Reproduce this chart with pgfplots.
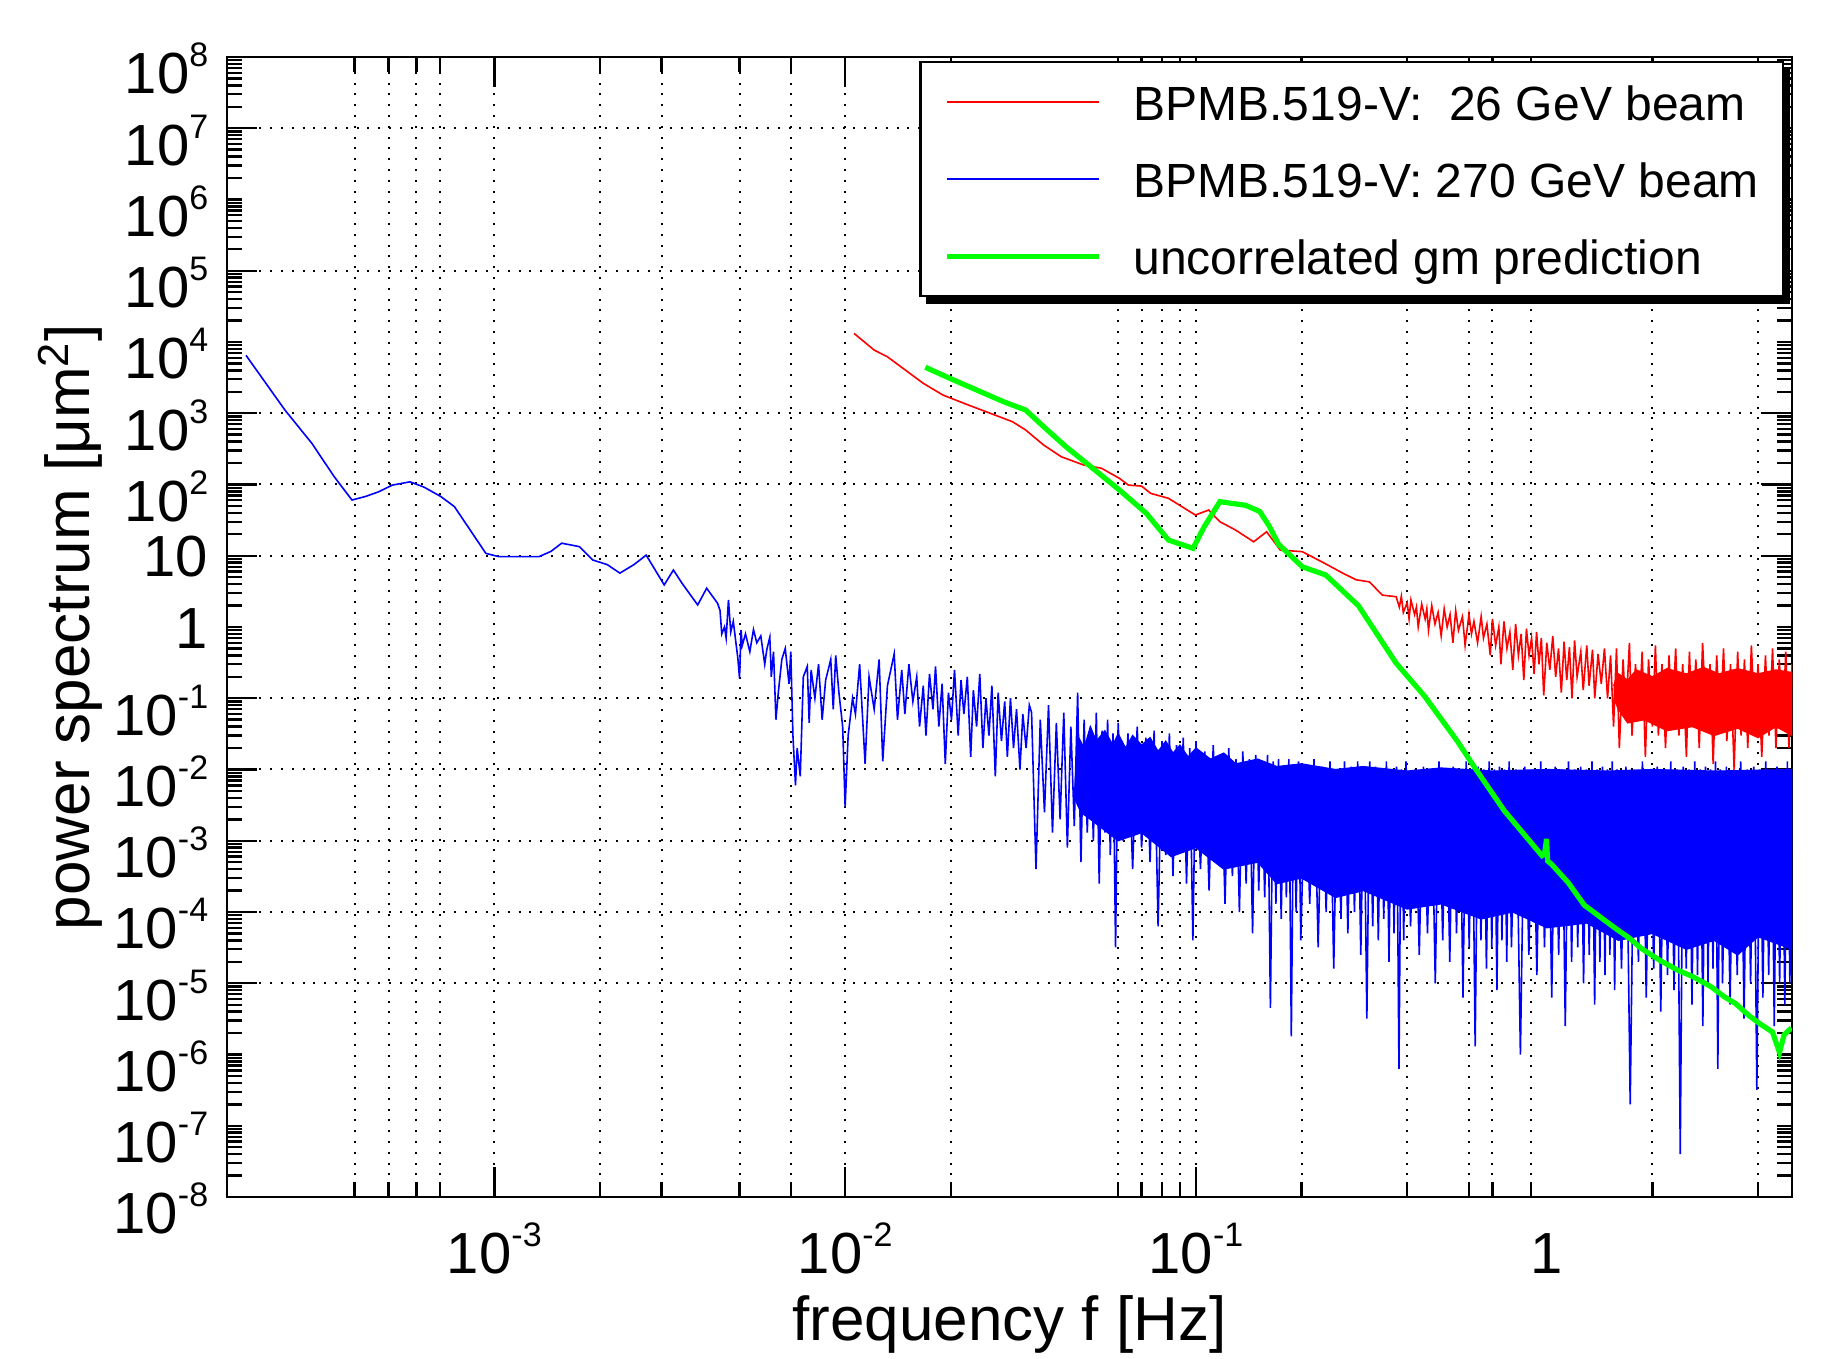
\documentclass[border=0pt]{standalone}
\usepackage{fontspec}
\setmainfont{Liberation Sans}
\usepackage{pgfplots}
\pgfplotsset{compat=1.18}
\definecolor{mred}{RGB}{255,0,0}
\definecolor{mblue}{RGB}{0,0,255}
\definecolor{mgreen}{RGB}{0,255,0}
\newcommand{\xp}[1]{10\raisebox{6.75pt}{\fontsize{8.5}{9}\selectfont #1}}
\newcommand{\yp}[1]{\lower3.9pt\hbox{\xp{#1}}}
\begin{document}
\begin{tikzpicture}
\useasboundingbox (-56.75pt,-40.25pt) rectangle (402.75pt,299.25pt);
\begin{axis}[
  at={(0pt,0pt)}, anchor=south west,
  width=391.25pt, height=285pt, scale only axis,
  xmode=log, ymode=log,
  xmin=1.73e-4, xmax=5, ymin=1e-8, ymax=1e8,
  axis line style={line width=0.6pt},
  tick style={black, line width=0.6pt},
  major tick length=7.5pt, minor tick length=3.8pt,
  xtick pos=both, ytick pos=both,
  xtick={1e-3,1e-2,1e-1},
  xticklabels={\xp{-3},\xp{-2},\xp{-1}},
  extra x ticks={1}, extra x tick labels={1},
  extra x tick style={grid=none, major tick length=0pt},
  minor xtick={4e-4,5e-4,6e-4,7e-4,2e-3,3e-3,5e-3,7e-3,2e-2,6e-2,7e-2,8e-2,9e-2,0.2,0.4,0.6,0.7,0.9,2,4},
  ytick={1e-5,1e-4,1e-3,1e-2,1e-1,1e1,1e2,1e3,1e5,1e7},
  yticklabels={\yp{-5},\yp{-4},\yp{-3},\yp{-2},\yp{-1},10,\yp{2},\yp{3},\yp{5},\yp{7}},
  extra y ticks={1e-8,1e-7,1e-6,1,1e4,1e6,1e8},
  extra y tick labels={\yp{-8},\yp{-7},\yp{-6},1,\yp{4},\yp{6},\yp{8}},
  extra y tick style={grid=none, major tick length=3.8pt},
  minor ytick={2e-8,3e-8,4e-8,5e-8,6e-8,7e-8,8e-8,9e-8,
    2e-7,3e-7,4e-7,5e-7,6e-7,7e-7,8e-7,9e-7,
    2e-6,3e-6,4e-6,5e-6,6e-6,7e-6,8e-6,9e-6,
    2e-5,3e-5,4e-5,5e-5,6e-5,7e-5,8e-5,9e-5,
    2e-4,3e-4,4e-4,5e-4,6e-4,7e-4,8e-4,9e-4,
    2e-3,3e-3,4e-3,5e-3,6e-3,7e-3,8e-3,9e-3,
    0.02,0.03,0.04,0.05,0.06,0.07,0.08,0.09,
    0.2,0.3,0.4,0.5,0.6,0.7,0.8,0.9,
    2,3,4,5,6,7,8,9,
    20,30,40,50,60,70,80,90,
    200,300,400,500,600,700,800,900,
    2000,3000,4000,5000,6000,7000,8000,9000,
    2e4,3e4,4e4,5e4,6e4,7e4,8e4,9e4,
    2e5,3e5,4e5,5e5,6e5,7e5,8e5,9e5,
    2e6,3e6,4e6,5e6,6e6,7e6,8e6,9e6,
    2e7,3e7,4e7,5e7,6e7,7e7,8e7,9e7},
  xmajorgrids, xminorgrids, ymajorgrids,
  major grid style={black, line width=0.5pt, dash pattern=on 0.5pt off 2.2pt},
  minor grid style={black, line width=0.5pt, dash pattern=on 0.5pt off 2.2pt},
  tick label style={font=\fontsize{14.5}{16}\selectfont, inner sep=0pt},
  xticklabel style={anchor=base, yshift=-19pt},
  yticklabel style={anchor=base east, xshift=-4.5pt, yshift=-5.3pt},
  xlabel={frequency f [Hz]},
  ylabel={power spectrum [μm\textsuperscript{2}]},
  every axis x label/.style={at={(axis description cs:0.5,-0.1118)}, anchor=center, font=\fontsize{15.5}{17}\selectfont},
  every axis y label/.style={at={(axis description cs:-0.1,0.5)}, rotate=90, anchor=center, font=\fontsize{15.5}{17}\selectfont},
  legend style={name=mylegend, at={(0.9949,0.9965)}, anchor=north east, draw=black, line width=0.6pt, fill=white,
    font=\fontsize{12}{14}\selectfont, inner xsep=6pt, inner ysep=5.5pt, row sep=10.25pt, column sep=8pt,
    nodes={inner sep=0pt, text height=9pt, text depth=0pt}},
  legend cell align=left,
  legend image code/.code={\draw[#1] (0pt,0pt) -- (38pt,0pt);},
]
\addlegendimage{mred, line width=0.6pt}
\addlegendentry{BPMB.519-V:\ \ 26 GeV beam}
\addlegendimage{mblue, line width=0.6pt}
\addlegendentry{BPMB.519-V: 270 GeV beam}
\addlegendimage{mgreen, line width=1.3pt}
\addlegendentry{uncorrelated gm prediction}

% blue dense core
\addplot[forget plot, draw=mblue, line width=0.3pt, fill=mblue, line join=miter] coordinates {
(0.045,0.004)(0.046,0.03)(0.048,0.02)(0.05,0.04)(0.052,0.025)(0.055,0.035)(0.058,0.022)(0.06,0.032)
(0.063,0.02)(0.066,0.03)(0.07,0.022)(0.074,0.028)(0.078,0.018)(0.082,0.025)(0.086,0.017)(0.09,0.022)
(0.095,0.015)(0.1,0.02)(0.11,0.014)(0.12,0.017)(0.13,0.012)(0.15,0.014)(0.17,0.011)(0.2,0.012)
(0.25,0.01)(0.3,0.011)(0.4,0.0095)(0.5,0.0105)(0.7,0.0095)(1,0.01)(1.5,0.0095)(2,0.01)(3,0.0095)(5,0.01)
(5,3e-5)(4,4.5e-5)(3.5,2.5e-5)(3,4e-5)(2.5,3e-5)(2,5e-5)(1.6,4e-5)(1.3,7e-5)(1,6e-5)(0.8,1e-4)
(0.65,8e-5)(0.5,1.3e-4)(0.4,1.1e-4)(0.3,2e-4)(0.25,1.6e-4)(0.2,3e-4)(0.17,2.5e-4)(0.15,5e-4)
(0.12,4e-4)(0.1,8e-4)(0.085,6e-4)(0.07,1.3e-3)(0.06,1e-3)(0.05,2e-3)(0.047,2.5e-3)(0.045,4e-3)};

% blue spectrum
\addplot[forget plot, mblue, line width=0.4pt] coordinates {
(1.96e-4,6.5e3)(2.53e-4,1.11e3)(3.02e-4,378)(3.5e-4,128)(3.93e-4,60.5)(4.3e-4,68)(4.68e-4,79)
(5.12e-4,98)(5.75e-4,109)(6.3e-4,92)(7.05e-4,67.5)(7.7e-4,48.8)(8.41e-4,25.6)(9.46e-4,10.8)
(1.03e-3,9.7)(1.34e-3,9.7)(1.45e-3,11.5)(1.556e-3,15)(1.75e-3,13.4)(1.91e-3,8.7)(2.1e-3,7.5)
(2.28e-3,5.7)(2.5e-3,7.5)(2.71e-3,10.2)(3.05e-3,3.9)(3.24e-3,6.3)(3.43e-3,4.1)(3.8e-3,2.04)
(4.03e-3,3.5)(4.33e-3,2.15)
(4.40e-3,1.7)(4.45e-3,0.8)(4.53e-3,1.0)(4.58e-3,0.7)(4.65e-3,2.4)(4.72e-3,0.85)(4.8e-3,1.2)
(4.95e-3,0.35)(5.0e-3,0.19)(5.05e-3,0.9)(5.09e-3,0.55)(5.2e-3,0.8)(5.35e-3,0.45)(5.48e-3,0.92)
(5.6e-3,0.6)(5.75e-3,0.75)(5.9e-3,0.3)(5.98e-3,0.48)(6.1e-3,0.72)(6.16e-3,0.2)(6.25e-3,0.45)
(6.35e-3,0.05)(6.45e-3,0.12)(6.6e-3,0.35)(6.75e-3,0.5)(6.92e-3,0.16)(7.0e-3,0.45)(7.1e-3,0.03)
(7.22e-3,0.006)(7.3e-3,0.02)(7.45e-3,0.008)(7.6e-3,0.2)(7.8e-3,0.28)(7.9e-3,0.045)(8.0e-3,0.25)
(8.2e-3,0.1)(8.4e-3,0.3)(8.6e-3,0.05)(8.8e-3,0.18)(9.1e-3,0.35)(9.25e-3,0.07)(9.4e-3,0.4)
(9.6e-3,0.12)(9.84e-3,0.04)(1.0e-2,0.003)(1.02e-2,0.03)(1.05e-2,0.1)(1.07e-2,0.06)(1.1e-2,0.3)
(1.14e-2,0.012)(1.17e-2,0.2)(1.21e-2,0.07)(1.25e-2,0.35)(1.28e-2,0.013)(1.32e-2,0.15)(1.38e-2,0.42)
(0.0141,0.05)(0.0145,0.25)(0.0148,0.06)(0.0152,0.3)(0.0156,0.09)(0.016,0.2)(0.0163,0.04)
(0.0167,0.15)(0.017,0.03)(0.0174,0.22)(0.0178,0.07)(0.0181,0.28)(0.0185,0.04)(0.0189,0.16)
(0.0193,0.012)(0.0197,0.12)(0.0201,0.05)(0.0205,0.25)(0.021,0.03)(0.0214,0.18)(0.0218,0.06)
(0.0223,0.2)(0.0228,0.015)(0.0232,0.13)(0.0237,0.04)(0.0242,0.22)(0.0247,0.02)(0.0252,0.1)
(0.0257,0.03)(0.0262,0.15)(0.0268,0.008)(0.0273,0.12)(0.0279,0.025)(0.0285,0.09)(0.029,0.015)
(0.0296,0.1)(0.0302,0.02)(0.0308,0.07)(0.0315,0.01)(0.0321,0.06)(0.0328,0.02)(0.0335,0.08)
(0.034,0.063)(0.035,4e-4)(0.036,0.05)(0.037,2.5e-3)(0.038,0.08)(0.039,1.3e-3)(0.040,0.045)
(0.041,2e-3)(0.042,0.063)(0.043,8e-4)(0.044,0.04)(0.045,1.6e-3)(0.046,0.12)(0.047,5e-4)
(0.048,0.05)(0.049,1.3e-3)(0.050,0.04)(0.051,1e-3)(0.052,0.063)(0.053,2.5e-4)(0.054,0.035)
(0.055,1.3e-3)(0.056,0.05)(0.057,6.3e-4)(0.058,0.032)(0.059,3.2e-5)(0.060,0.045)
(0.062,1e-3)(0.064,0.032)(0.066,4e-4)(0.068,0.04)(0.070,8e-4)(0.072,0.028)(0.074,5e-4)
(0.076,0.035)(0.078,6.3e-5)(0.080,0.025)(0.082,6.3e-4)(0.084,0.032)(0.086,3.2e-4)(0.088,0.022)
(0.090,8e-4)(0.092,0.028)(0.094,2.5e-4)(0.096,0.02)(0.098,4e-5)(0.100,0.025)
(0.103,4e-4)(0.106,0.018)(0.109,2e-4)(0.112,0.022)(0.115,5e-4)(0.118,0.016)(0.121,1.3e-4)
(0.124,0.02)(0.127,3.2e-4)(0.130,0.014)(0.133,1e-4)(0.136,0.018)(0.139,2.5e-4)(0.142,0.014)
(0.145,5e-5)(0.148,0.016)(0.151,2e-4)(0.154,0.013)(0.157,1.6e-4)(0.160,0.016)(0.163,4.5e-6)
(0.166,0.013)(0.169,1.3e-4)(0.172,0.014)(0.175,8e-5)(0.178,0.011)(0.181,1.6e-4)(0.184,0.014)
(0.187,1.8e-6)(0.190,0.011)(0.193,1e-4)(0.196,0.013)(0.199,4e-5)
(0.205,0.011)(0.211,1.3e-4)(0.217,0.014)(0.223,3.2e-5)(0.229,0.011)(0.235,1e-4)(0.241,0.013)
(0.247,1.6e-5)(0.253,0.01)(0.259,8e-5)(0.265,0.013)(0.271,5e-5)(0.277,0.011)(0.283,1e-4)
(0.289,0.013)(0.295,2.5e-5)(0.301,0.01)(0.307,3.2e-6)(0.313,0.013)(0.319,6.3e-5)(0.325,0.011)
(0.331,4e-5)(0.337,0.01)(0.343,8e-5)(0.349,0.013)(0.355,2e-5)(0.361,0.01)(0.367,5e-5)
(0.373,0.011)(0.379,6.3e-7)(0.385,0.01)(0.391,4e-5)(0.397,0.013)
(0.409,6.3e-5)(0.421,0.01)(0.433,2.5e-5)(0.445,0.011)(0.457,5e-5)(0.469,0.01)(0.481,1e-5)
(0.493,0.013)(0.505,4e-5)(0.517,0.01)(0.529,2e-5)(0.541,0.011)(0.553,5e-5)(0.565,0.01)
(0.577,6.3e-6)(0.589,0.013)(0.601,3.2e-5)(0.613,0.01)(0.625,1.3e-6)(0.637,0.011)(0.649,4e-5)
(0.661,0.01)(0.673,1.6e-5)(0.685,0.013)(0.697,3.2e-5)(0.709,0.01)(0.721,8e-6)(0.733,0.011)
(0.745,4e-5)(0.757,0.01)(0.769,2e-5)(0.781,0.013)(0.793,3.2e-5)
(0.817,0.01)(0.841,1e-6)(0.865,0.011)(0.889,2.5e-5)(0.913,0.01)(0.937,1.3e-5)(0.961,0.013)
(0.985,3.2e-5)(1.009,0.01)(1.033,6.3e-6)(1.057,0.011)(1.081,2.5e-5)(1.105,0.01)(1.129,2.5e-6)
(1.153,0.013)(1.177,2e-5)(1.201,0.01)(1.225,3.2e-5)(1.249,0.011)(1.273,1e-5)(1.297,0.01)
(1.321,2.5e-5)(1.345,0.013)(1.369,5e-6)(1.393,0.01)(1.417,2e-5)(1.441,0.011)(1.465,1.3e-5)
(1.489,0.01)(1.513,2.5e-5)(1.537,0.013)(1.561,8e-6)(1.585,0.01)
(1.633,1.6e-5)(1.681,0.011)(1.729,2e-7)(1.777,0.01)(1.825,2e-5)(1.873,0.013)(1.921,6.3e-6)
(1.969,0.01)(2.017,1.6e-5)(2.065,0.011)(2.113,4e-6)(2.161,0.01)(2.209,1.3e-5)(2.257,0.013)
(2.305,8e-6)(2.353,0.01)(2.401,4e-8)(2.449,0.011)(2.497,1.6e-5)(2.545,0.01)(2.593,5e-6)
(2.641,0.013)(2.689,1.3e-5)(2.737,0.01)(2.785,2.5e-6)(2.833,0.011)(2.881,1e-5)(2.929,0.01)
(2.977,1.6e-5)(3.025,0.013)(3.073,6.3e-7)(3.121,0.01)(3.169,1e-5)
(3.25,0.011)(3.33,5e-6)(3.41,0.01)(3.49,1.3e-5)(3.57,0.013)(3.65,3.2e-6)(3.73,0.01)(3.81,1e-5)
(3.89,0.011)(3.97,3.2e-7)(4.05,0.01)(4.13,6.3e-6)(4.21,0.013)(4.29,1.3e-5)(4.37,0.01)
(4.45,2.5e-6)(4.53,0.011)(4.61,1e-5)(4.69,0.01)(4.77,5e-6)(4.85,0.013)(4.93,1e-5)(5.0,0.01)};

% red dense core
\addplot[forget plot, draw=mred, line width=0.3pt, fill=mred, line join=miter] coordinates {
(1.55,0.15)(1.6,0.22)(1.7,0.18)(1.8,0.25)(2,0.2)(2.2,0.26)(2.5,0.22)(2.8,0.27)(3.1,0.22)
(3.5,0.26)(4,0.22)(4.5,0.25)(5,0.23)
(5,0.03)(4.5,0.04)(4,0.028)(3.5,0.038)(3,0.03)(2.6,0.04)(2.2,0.035)(1.9,0.05)(1.7,0.045)
(1.6,0.07)(1.55,0.1)};

% red spectrum
\addplot[forget plot, mred, line width=0.4pt] coordinates {
(1.06e-2,1.32e4)(1.21e-2,7.7e3)(1.32e-2,6.2e3)(1.40e-2,5.0e3)(1.67e-2,2.63e3)(1.90e-2,1.80e3)
(2.24e-2,1.31e3)(2.59e-2,1.0e3)(3.0e-2,760)(3.27e-2,582)(3.68e-2,358)(4.13e-2,245)(4.78e-2,188)
(5.38e-2,169)(6.05e-2,122)(6.42e-2,98)(7.0e-2,95)(7.43e-2,75)(8.35e-2,64)(9.12e-2,48.8)
(9.96e-2,37.3)(0.1087,43.8)(0.117,30)(0.1296,23)(0.146,15.7)(0.159,21.7)(0.174,12)(0.201,11.4)
(0.233,7.8)(0.262,5.7)(0.286,4.6)(0.312,4.3)(0.34,2.8)(0.372,2.66)
(0.38,1.9)(0.385,2.7)(0.39,1.6)(0.40,2.2)(0.405,1.3)(0.41,2.4)(0.42,1.5)(0.425,1.9)(0.43,1.0)
(0.44,2.1)(0.45,1.3)(0.455,1.8)(0.46,0.9)(0.47,2.0)(0.48,1.1)(0.49,1.6)(0.50,0.75)(0.51,1.8)
(0.52,1.0)(0.53,1.5)(0.54,0.6)(0.55,1.7)(0.56,0.9)(0.575,1.4)(0.585,0.55)(0.6,1.5)(0.61,0.8)
(0.62,1.2)(0.635,0.6)(0.65,1.4)(0.66,0.7)(0.675,1.1)(0.69,0.4)(0.70,1.3)(0.715,0.55)(0.73,1.0)
(0.74,0.3)(0.755,1.2)(0.77,0.5)(0.785,0.85)(0.80,0.25)(0.815,1.1)(0.83,0.4)(0.845,0.8)
(0.86,0.18)(0.875,0.95)(0.89,0.4)(0.905,0.7)(0.92,0.22)(0.935,0.85)(0.95,0.3)(0.965,0.7)(0.98,0.11)
(1.0,0.6)(1.02,0.25)(1.04,0.75)(1.06,0.2)(1.08,0.5)(1.10,0.12)(1.12,0.62)(1.14,0.18)(1.16,0.52)
(1.18,0.1)(1.2,0.65)(1.22,0.2)(1.25,0.45)(1.27,0.13)(1.3,0.55)(1.32,0.15)(1.35,0.48)(1.37,0.1)
(1.4,0.42)(1.43,0.16)(1.46,0.5)(1.49,0.1)(1.52,0.4)(1.55,0.04)(1.58,0.5)(1.61,0.02)(1.65,0.35)
(1.68,0.06)(1.72,0.6)(1.75,0.03)(1.79,0.3)(1.83,0.05)(1.87,0.45)(1.91,0.015)(1.95,0.35)(2.0,0.04)
(2.04,0.55)(2.08,0.03)(2.13,0.3)(2.18,0.02)(2.23,0.4)(2.28,0.05)(2.33,0.5)(2.38,0.03)(2.44,0.3)
(2.5,0.015)(2.55,0.45)(2.6,0.04)(2.66,0.35)(2.72,0.02)(2.78,0.6)(2.85,0.05)(2.92,0.3)(2.98,0.012)
(3.05,0.4)(3.12,0.04)(3.19,0.5)(3.26,0.025)(3.34,0.3)(3.42,0.01)(3.5,0.45)(3.58,0.03)(3.66,0.35)
(3.74,0.02)(3.83,0.55)(3.92,0.04)(4.0,0.3)(4.1,0.015)(4.2,0.4)(4.3,0.03)(4.4,0.5)(4.5,0.02)
(4.6,0.35)(4.7,0.04)(4.8,0.45)(4.9,0.02)(5.0,0.3)};

% green prediction
\addplot[forget plot, mgreen, line width=1.3pt] coordinates {
(0.01693,4420)(0.01989,3090)(0.0237,2120)(0.0283,1450)(0.0327,1110)(0.0368,648)(0.0426,339)
(0.0508,169)(0.0605,83.7)(0.0722,39.4)(0.0835,16.6)(0.0981,12.7)(0.1056,25.6)(0.117,57.4)
(0.1386,51)(0.152,41.8)(0.1616,26.3)(0.172,14.5)(0.201,7.0)(0.2344,5.37)(0.2905,1.99)
(0.372,0.311)(0.4477,0.108)(0.5557,0.0251)(0.629,9.93e-3)(0.7566,2.64e-3)(0.969,6.17e-4)
(0.985,6.5e-4)(0.9986,1.06e-3)(1.005,5.2e-4)(1.03,4.72e-4)(1.15,2.6e-4)(1.279,1.25e-4)
(1.42,8.5e-5)(1.586,5.68e-5)(1.72,4.3e-5)(1.853,3.12e-5)(2.1,2.1e-5)(2.371,1.51e-5)
(2.6,1.25e-5)(2.944,8.9e-6)(3.2,6.5e-6)(3.45,5.2e-6)(3.768,3.52e-6)(4.05,2.7e-6)(4.398,2.07e-6)
(4.605,1.07e-6)(4.75,1.9e-6)(4.98,2.36e-6)};
\end{axis}
\draw[line width=1.6pt, line cap=rect]
  ([xshift=2.4pt,yshift=-0.8pt]mylegend.south west) -- ([xshift=0.8pt,yshift=-0.8pt]mylegend.south east)
  -- ([xshift=0.8pt,yshift=-2.4pt]mylegend.north east);
\end{tikzpicture}
\end{document}
